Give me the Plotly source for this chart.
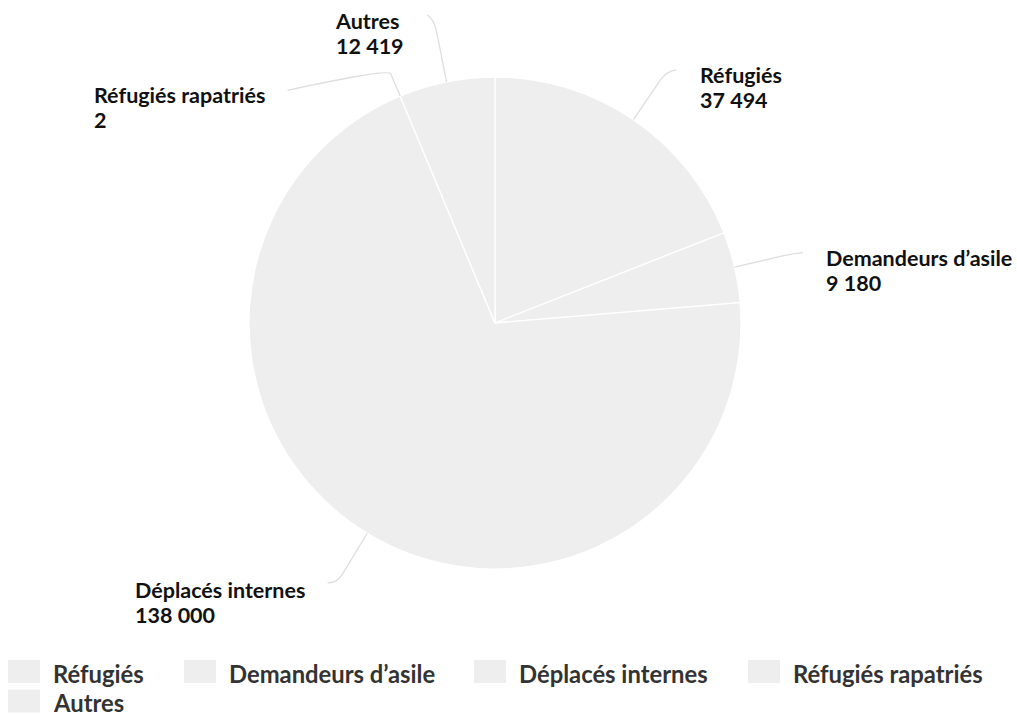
import math
import plotly.graph_objects as go

# ---- data ----
categories = ["Réfugiés", "Demandeurs d’asile", "Déplacés internes", "Réfugiés rapatriés", "Autres"]
values = [37494, 9180, 138000, 2, 12419]
value_labels = ["37 494", "9 180", "138 000", "2", "12 419"]

# ---- style / layout ----
W, H = 1017, 715
CX, CY, R = 495, 323, 246
SLICE_COLOR = "#eeeeee"
CONNECTOR_COLOR = "#dedede"
LABEL_SIZE = 21.5
LABEL_LINE = 25  # px between label lines
LABEL_FONT = dict(family="Lato", size=LABEL_LINE / 1.3, color="#111111", weight="bold")
LEGEND_FONT = dict(family="Lato", size=23.8, color="#333333", weight="bold")
# connector crook radius and end offset (px) per label (label collision handling)
conn_style = [
    dict(rk=305, dx=10, dy=-1, ty=1.5),
    dict(rk=305, dx=11, dy=-1, ty=1.5),
    dict(rk=305, dx=-9, dy=-1, ty=3.0),
    dict(rk=276, dx=-101, dy=22, ty=1.0),
    dict(rk=310, dx=-7, dy=-4, ty=1.5),
]
LABEL_GAP = 22
legend_text_x = [52, 228, 518, 792, 52]
legend_row_y = [671.5, 701.0]
legend_row = [0, 0, 0, 0, 1]


def px(x):
    return x / W


def py(y):
    return 1 - y / H


fig = go.Figure()
fig.add_trace(go.Pie(
    labels=categories,
    values=values,
    sort=False,
    direction="clockwise",
    rotation=0,
    textinfo="none",
    hoverinfo="label+value",
    marker=dict(colors=[SLICE_COLOR] * len(values), line=dict(color="white", width=1.3)),
    domain=dict(x=[px(CX - R), px(CX + R)], y=[py(CY + R), py(CY - R)]),
    showlegend=False,
))

total = sum(values)
cum = 0.0
shapes = []
annotations = []
for i, (cat, v, vl) in enumerate(zip(categories, values, value_labels)):
    mid = (cum + v / 2) / total * 2 * math.pi
    cum += v
    s, c = math.sin(mid), math.cos(mid)
    st = conn_style[i]
    ex, ey = CX + R * s, CY - R * c
    kx, ky = CX + st["rk"] * s, CY - st["rk"] * c
    lx, ly = kx + st["dx"], ky + st["dy"]
    k1x, k1y = ex + (kx - ex) * 0.8, ey + (ky - ey) * 0.8
    path = (f"M {px(ex)},{py(ey)} L {px(k1x)},{py(k1y)} "
            f"Q {px(kx)},{py(ky)} {px(lx)},{py(ly)}")
    shapes.append(dict(type="path", path=path, xref="paper", yref="paper",
                       line=dict(color=CONNECTOR_COLOR, width=1.3), layer="above"))
    if s > 0:
        ax, xanchor = lx + LABEL_GAP, "left"
    else:
        ax, xanchor = lx - LABEL_GAP, "right"
    sp = f'<span style="font-size:{LABEL_SIZE}px">'
    annotations.append(dict(
        x=px(ax), y=py(ly - 10 + st["ty"]), xref="paper", yref="paper",
        xanchor=xanchor, yanchor="top", align="left", showarrow=False,
        borderpad=0, text=f"{sp}{cat}</span><br>{sp}{vl}</span>", font=LABEL_FONT,
    ))

# legend (manual, to match symbol size)
for i, cat in enumerate(categories):
    tx = legend_text_x[i]
    yc = legend_row_y[legend_row[i]]
    shapes.append(dict(type="rect", xref="paper", yref="paper",
                       x0=px(tx - 44), x1=px(tx - 12), y0=py(yc - 11.5), y1=py(yc + 11.5),
                       fillcolor=SLICE_COLOR, line=dict(width=0)))
    annotations.append(dict(
        x=px(tx), y=py(yc + 2), xref="paper", yref="paper",
        xanchor="left", yanchor="middle", showarrow=False, borderpad=0,
        text=cat, font=LEGEND_FONT,
    ))

fig.update_layout(
    width=W, height=H,
    margin=dict(l=0, r=0, t=0, b=0),
    paper_bgcolor="white", plot_bgcolor="white",
    shapes=shapes, annotations=annotations,
    font=dict(family="Lato"),
)
fig.write_html("out.html", config={"displayModeBar": False},
               post_script="document.body.style.margin='0';document.body.style.overflow='hidden';")
